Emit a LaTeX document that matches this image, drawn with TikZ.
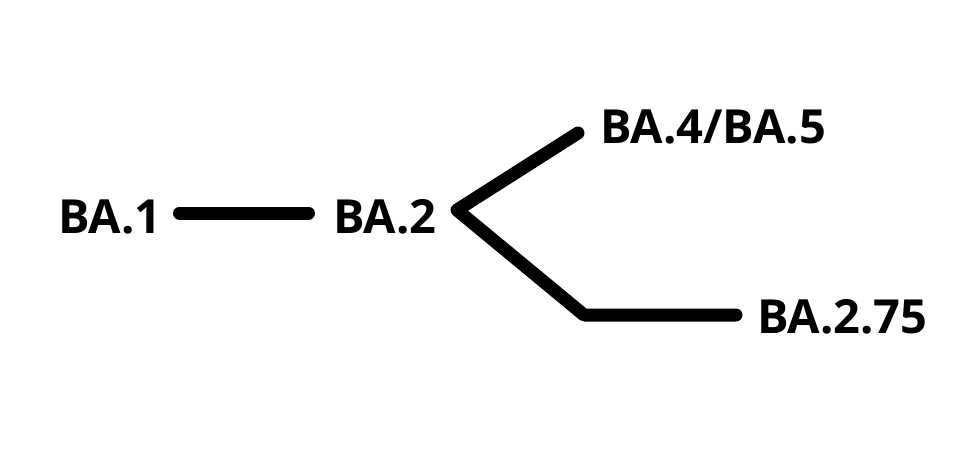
\documentclass[tikz,border=0pt]{standalone}
\usepackage{fontspec}
\setmainfont{Open Sans}[BoldFont={* Bold}]
\begin{document}
\begin{tikzpicture}[x=1pt,y=-1pt,
  lbl/.style={inner sep=0pt,anchor=base west,font=\fontsize{47}{47}\selectfont\bfseries},
  branch/.style={line width=13pt,line cap=round,line join=round}]
\useasboundingbox (0,0) rectangle (959,451);
\node[lbl] (ba1) at (58,233) {BA.1};
\node[lbl] (ba2) at (333,233) {BA.2};
\node[lbl] (ba45) at (600,143) {BA.4/BA.5};
\node[lbl] (ba275) at (757,333) {BA.2.75};
\coordinate (a1) at (179.5,213);
\coordinate (a2) at (308.5,213);
\coordinate (v) at (457,210);
\coordinate (t) at (578,133);
\coordinate (c) at (584,315);
\coordinate (e) at (736,315);
\draw[branch] (a1) -- (a2);
\draw[branch] (t) -- (v) -- (c) -- (e);
\end{tikzpicture}
\end{document}
